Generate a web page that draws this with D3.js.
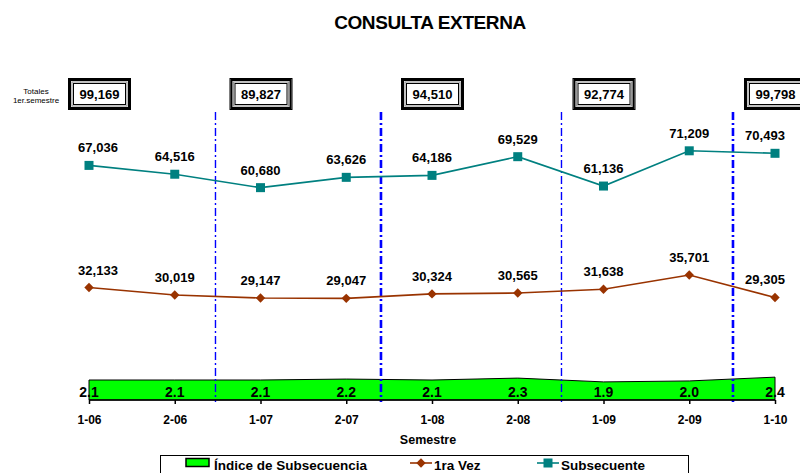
<!DOCTYPE html>
<html>
<head>
<meta charset="utf-8">
<script src="https://cdn.jsdelivr.net/npm/d3@7/dist/d3.min.js"></script>
<style>
  html, body { margin: 0; padding: 0; background: #fff; }
  svg { display: block; font-family: "Liberation Sans", Arial, sans-serif; }
</style>
</head>
<body>
<svg id="chart" width="800" height="473"></svg>
<script>
// Semesters and series
const semesters = ["1-06", "2-06", "1-07", "2-07", "1-08", "2-08", "1-09", "2-09", "1-10"];
const primeraVez = [32133, 30019, 29147, 29047, 30324, 30565, 31638, 35701, 29305];
const subsecuente = [67036, 64516, 60680, 63626, 64186, 69529, 61136, 71209, 70493];
const indice = [2.1, 2.1, 2.1, 2.2, 2.1, 2.3, 1.9, 2.0, 2.4];

// First-semester totals shown in the framed boxes
const totalSemesters = ["1-06", "1-07", "1-08", "1-09", "1-10"];
const totals = [99169, 89827, 94510, 92774, 99798];

// Year separators, placed between semester positions (index units)
const dividers = [1.475, 3.405, 5.51, 7.51];
const dividerBold = [false, true, false, true];

const svg = d3.select("#chart");
const fmt = d3.format(",");
const fmt1 = d3.format(".1f");

const x = d3.scalePoint().domain(semesters).range([89, 775]);
const step = x.step();
const y = d3.scaleLinear().domain([0, 114300]).range([400, 0]);
const y2 = d3.scaleLinear().domain([0, 42]).range([400, 0]);

// Title
svg.append("text")
  .attr("x", 430).attr("y", 29)
  .attr("text-anchor", "middle")
  .attr("font-size", 19).attr("font-weight", "bold")
  .attr("letter-spacing", -0.4)
  .text("CONSULTA EXTERNA");

// Totals caption
svg.append("text").attr("x", 36).attr("y", 94).attr("text-anchor", "middle")
  .attr("font-size", 8).text("Totales");
svg.append("text").attr("x", 36).attr("y", 103).attr("text-anchor", "middle")
  .attr("font-size", 8).text("1er.semestre");

// Framed total boxes
const boxW = 62, boxH = 31;
totals.forEach((t, i) => {
  const cx = x(totalSemesters[i]) + (i === 0 ? 10 : 0);
  const g = svg.append("g").attr("transform", `translate(${cx - boxW / 2},78)`);
  g.append("rect").attr("x", 0.5).attr("y", 0.5).attr("width", boxW).attr("height", boxH)
    .attr("fill", "#fff").attr("stroke", "#000").attr("stroke-width", 1);
  g.append("rect").attr("x", 2).attr("y", 2).attr("width", boxW - 3).attr("height", boxH - 3)
    .attr("fill", "none").attr("stroke", "#000").attr("stroke-width", 2);
  g.append("rect").attr("x", 4).attr("y", 4).attr("width", boxW - 7).attr("height", boxH - 7)
    .attr("fill", "none").attr("stroke", "#999").attr("stroke-width", 1.2);
  g.append("rect").attr("x", 5.5).attr("y", 5.5).attr("width", boxW - 10).attr("height", boxH - 10)
    .attr("fill", "#fff").attr("stroke", "#000").attr("stroke-width", 1);
  g.append("text").attr("x", boxW / 2 + 0.5).attr("y", 21)
    .attr("text-anchor", "middle").attr("font-size", 13).attr("font-weight", "bold")
    .text(fmt(t));
});

// Index of subsequence: area on secondary scale
const area = d3.area()
  .x((d, i) => x(semesters[i]))
  .y0(y2(0))
  .y1(d => y2(d));
svg.append("path").datum(indice)
  .attr("d", area)
  .attr("fill", "#00ff00").attr("stroke", "#000").attr("stroke-width", 1);

// Year separators
dividers.forEach((u, i) => {
  const xx = x(semesters[0]) + step * u;
  svg.append("line")
    .attr("x1", xx).attr("x2", xx).attr("y1", 112).attr("y2", 402)
    .attr("stroke", "#0000ff")
    .attr("stroke-width", dividerBold[i] ? 2.6 : 1.4)
    .attr("stroke-dasharray", "8,3,2,3");
});

// X axis
const xAxis = d3.axisBottom(x).tickSize(4).tickPadding(11);
const ax = svg.append("g").attr("transform", "translate(0,400)").call(xAxis);
ax.select(".domain").attr("stroke", "#000").attr("stroke-width", 1.5).attr("d", `M${x(semesters[0])},0H${x(semesters[semesters.length - 1])}`);
ax.selectAll(".tick line").attr("stroke", "#000").attr("stroke-width", 1.5);
ax.selectAll(".tick text")
  .attr("font-family", "Liberation Sans, Arial, sans-serif")
  .attr("font-size", 12).attr("font-weight", "bold").attr("fill", "#000");

svg.append("text").attr("x", 428).attr("y", 444).attr("text-anchor", "middle")
  .attr("font-size", 12.5).attr("font-weight", "bold").text("Semestre");

// Index labels inside the band
svg.append("g").selectAll("text").data(indice).join("text")
  .attr("x", (d, i) => x(semesters[i]))
  .attr("y", 397)
  .attr("text-anchor", "middle")
  .attr("font-size", 14).attr("font-weight", "bold")
  .text(d => fmt1(d));

// Line series
const line = d3.line().x((d, i) => x(semesters[i])).y(d => y(d));

function labelX(i) {
  const base = x(semesters[i]);
  if (i === 0) return base + 9;
  if (i === semesters.length - 1) return base - 10;
  return base;
}

// Subsecuente
svg.append("path").datum(subsecuente).attr("d", line)
  .attr("fill", "none").attr("stroke", "#008080").attr("stroke-width", 1.6);
svg.append("g").selectAll("rect").data(subsecuente).join("rect")
  .attr("x", (d, i) => x(semesters[i]) - 4.5).attr("y", d => y(d) - 4.5)
  .attr("width", 9).attr("height", 9).attr("fill", "#008080");
svg.append("g").selectAll("text").data(subsecuente).join("text")
  .attr("x", (d, i) => labelX(i)).attr("y", d => y(d) - 13)
  .attr("text-anchor", "middle").attr("font-size", 13).attr("font-weight", "bold")
  .text(d => fmt(d));

// 1ra Vez: square markers turned 45 degrees
const diamond = d3.symbol().type(d3.symbolSquare).size(44);
svg.append("path").datum(primeraVez).attr("d", line)
  .attr("fill", "none").attr("stroke", "#993300").attr("stroke-width", 1.6);
svg.append("g").selectAll("path").data(primeraVez).join("path")
  .attr("transform", (d, i) => `translate(${x(semesters[i])},${y(d)}) rotate(45)`)
  .attr("d", diamond).attr("fill", "#993300");
svg.append("g").selectAll("text").data(primeraVez).join("text")
  .attr("x", (d, i) => labelX(i)).attr("y", d => y(d) - 13)
  .attr("text-anchor", "middle").attr("font-size", 13).attr("font-weight", "bold")
  .text(d => fmt(d));

// Legend
const lg = svg.append("g");
lg.append("rect").attr("x", 160.5).attr("y", 455.5).attr("width", 528).attr("height", 30)
  .attr("fill", "#fff").attr("stroke", "#000").attr("stroke-width", 1);
lg.append("rect").attr("x", 186).attr("y", 458.5).attr("width", 23).attr("height", 8)
  .attr("fill", "#00ff00").attr("stroke", "#000").attr("stroke-width", 1.5);
lg.append("text").attr("x", 214).attr("y", 469.5).attr("font-size", 13.5).attr("font-weight", "bold")
  .text("Índice de Subsecuencia");
lg.append("line").attr("x1", 410).attr("x2", 432).attr("y1", 463).attr("y2", 463)
  .attr("stroke", "#993300").attr("stroke-width", 1.6);
lg.append("path").attr("transform", "translate(421,463) rotate(45)").attr("d", diamond).attr("fill", "#993300");
lg.append("text").attr("x", 434).attr("y", 469.5).attr("font-size", 13.5).attr("font-weight", "bold")
  .text("1ra Vez");
lg.append("line").attr("x1", 537).attr("x2", 559).attr("y1", 463).attr("y2", 463)
  .attr("stroke", "#008080").attr("stroke-width", 1.6);
lg.append("rect").attr("x", 543.5).attr("y", 458.5).attr("width", 9).attr("height", 9).attr("fill", "#008080");
lg.append("text").attr("x", 561).attr("y", 469.5).attr("font-size", 13.5).attr("font-weight", "bold")
  .text("Subsecuente");
</script>
</body>
</html>
